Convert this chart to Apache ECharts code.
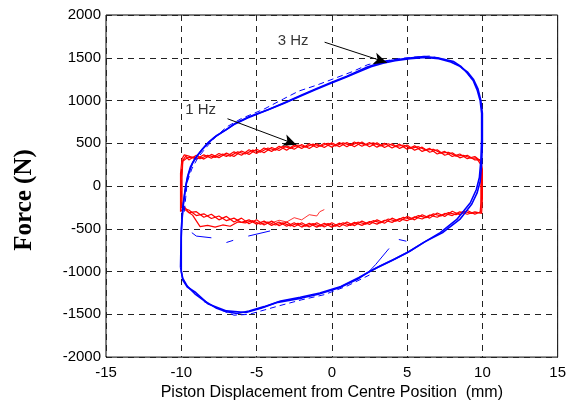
<!DOCTYPE html>
<html>
<head>
<meta charset="utf-8">
<script src="https://cdn.jsdelivr.net/npm/echarts@6/dist/echarts.min.js"></script>
<style>
html,body{margin:0;padding:0;background:#fff;}
#chart{width:569px;height:406px;}
</style>
</head>
<body>
<div id="chart"></div>
<script>
// Axis ranges / ticks
var xTicks = [-15, -10, -5, 0, 5, 10, 15];
var yTicks = [-2000, -1500, -1000, -500, 0, 500, 1000, 1500, 2000];
var xLabel = 'Piston Displacement from Centre Position  (mm)';
var yLabel = 'Force (N)';

// 1 Hz loops (red): displacement (mm), force (N)
var red1 = [[-10.0,-250],[-10.0,100],[-9.9,300],[-9.7,350],[-9.5,305],[-9.0,360],[-8.5,315],[-8.0,370],[-7.5,330],[-7.0,385],[-6.5,345],[-6.0,410],[-5.5,370],[-5.0,430],[-4.5,390],[-4.0,450],[-3.5,415],[-3.0,470],[-2.5,430],[-2.0,485],[-1.5,440],[-1.0,495],[-0.5,450],[0.0,505],[0.5,460],[1.0,510],[1.5,460],[2.0,515],[2.5,460],[3.0,505],[3.5,450],[4.0,495],[4.5,440],[5.0,480],[5.5,420],[6.0,455],[6.5,395],[7.0,425],[7.5,360],[8.0,390],[8.5,330],[9.0,360],[9.5,305],[9.8,310],[9.95,260],[9.95,-100],[9.9,-300],[9.5,-330],[9.0,-285],[8.5,-335],[8.0,-295],[7.5,-355],[7.0,-315],[6.5,-375],[6.0,-335],[5.5,-395],[5.0,-355],[4.5,-415],[4.0,-375],[3.5,-435],[3.0,-395],[2.5,-450],[2.0,-410],[1.5,-465],[1.0,-420],[0.5,-475],[0.0,-430],[-0.5,-480],[-1.0,-430],[-1.5,-480],[-2.0,-430],[-2.5,-475],[-3.0,-420],[-3.5,-465],[-4.0,-410],[-4.5,-455],[-5.0,-395],[-5.5,-440],[-6.0,-375],[-6.5,-420],[-7.0,-355],[-7.5,-395],[-8.0,-330],[-8.5,-365],[-9.0,-300],[-9.5,-310],[-9.8,-240],[-10.0,-250]];
var red2 = [[-10.05,-300],[-10.05,150],[-9.95,320],[-9.8,365],[-9.5,350],[-9.0,315],[-8.5,365],[-8.0,325],[-7.5,380],[-7.0,345],[-6.5,400],[-6.0,360],[-5.5,425],[-5.0,380],[-4.5,445],[-4.0,405],[-3.5,465],[-3.0,420],[-2.5,480],[-2.0,440],[-1.5,495],[-1.0,450],[-0.5,500],[0.0,455],[0.5,510],[1.0,460],[1.5,515],[2.0,465],[2.5,510],[3.0,455],[3.5,500],[4.0,445],[4.5,490],[5.0,430],[5.5,470],[6.0,405],[6.5,440],[7.0,375],[7.5,405],[8.0,345],[8.5,375],[9.0,320],[9.5,345],[9.85,300],[10.0,200],[10.0,-150],[9.95,-320],[9.5,-300],[9.0,-330],[8.5,-300],[8.0,-345],[7.5,-320],[7.0,-365],[6.5,-340],[6.0,-385],[5.5,-360],[5.0,-405],[4.5,-380],[4.0,-425],[3.5,-400],[3.0,-445],[2.5,-415],[2.0,-460],[1.5,-425],[1.0,-470],[0.5,-435],[0.0,-480],[-0.5,-435],[-1.0,-480],[-1.5,-435],[-2.0,-480],[-2.5,-430],[-3.0,-470],[-3.5,-420],[-4.0,-460],[-4.5,-410],[-5.0,-445],[-5.5,-395],[-6.0,-425],[-6.5,-375],[-7.0,-405],[-7.5,-350],[-8.0,-380],[-8.5,-325],[-9.0,-345],[-9.5,-280],[-9.85,-260],[-10.05,-300]];
var red3 = [[-9.95,-280],[-9.95,100],[-9.9,290],[-9.6,330],[-9.25,340],[-8.75,320],[-8.25,360],[-7.75,335],[-7.25,375],[-6.75,350],[-6.25,400],[-5.75,375],[-5.25,420],[-4.75,395],[-4.25,445],[-3.75,420],[-3.25,465],[-2.75,440],[-2.25,480],[-1.75,455],[-1.25,490],[-0.75,465],[-0.25,500],[0.25,470],[0.75,505],[1.25,475],[1.75,510],[2.25,480],[2.75,505],[3.25,470],[3.75,495],[4.25,460],[4.75,480],[5.25,440],[5.75,460],[6.25,420],[6.75,430],[7.25,385],[7.75,395],[8.25,350],[8.75,360],[9.25,325],[9.6,330],[9.9,250],[9.9,-200],[9.85,-310],[9.6,-310],[9.25,-320],[8.75,-295],[8.25,-335],[7.75,-310],[7.25,-350],[6.75,-325],[6.25,-370],[5.75,-345],[5.25,-390],[4.75,-365],[4.25,-410],[3.75,-385],[3.25,-430],[2.75,-405],[2.25,-445],[1.75,-420],[1.25,-460],[0.75,-430],[0.25,-470],[-0.25,-440],[-0.75,-470],[-1.25,-440],[-1.75,-470],[-2.25,-435],[-2.75,-465],[-3.25,-430],[-3.75,-455],[-4.25,-420],[-4.75,-445],[-5.25,-405],[-5.75,-430],[-6.25,-420],[-6.75,-470],[-7.25,-455],[-7.75,-480],[-8.25,-460],[-8.75,-475],[-9.25,-340],[-9.5,-310],[-9.8,-270],[-9.95,-280]];
var redTail = [[-4.0,-430],[-3.5,-400],[-3.0,-420],[-2.5,-370],[-2.0,-395],[-1.5,-335],[-1.0,-350],[-0.8,-300],[-0.5,-275]];

// 3 Hz loops (blue)
var blue1 = [[-10.0,-900],[-10.0,-600],[-9.95,-400],[-9.85,-200],[-9.7,0],[-9.5,150],[-9.25,270],[-9.0,340],[-8.6,430],[-8.2,510],[-7.7,585],[-7.0,660],[-6.4,735],[-5.5,810],[-4.2,895],[-3.0,985],[-2.0,1065],[-1.0,1140],[0.0,1215],[1.0,1285],[1.7,1340],[2.4,1395],[3.2,1440],[4.0,1470],[5.0,1495],[6.1,1515],[7.0,1500],[8.1,1455],[8.6,1395],[9.0,1320],[9.4,1230],[9.65,1125],[9.85,1000],[9.95,850],[9.95,550],[9.9,300],[9.8,100],[9.6,-40],[9.2,-195],[8.3,-390],[7.2,-545],[6.0,-670],[5.0,-780],[4.0,-870],[3.0,-955],[2.4,-1010],[1.7,-1090],[0.5,-1190],[-0.9,-1265],[-2.0,-1310],[-3.6,-1360],[-4.7,-1430],[-5.7,-1478],[-7.0,-1460],[-8.2,-1380],[-9.04,-1245],[-9.6,-1180],[-9.9,-1100],[-10.0,-1000],[-10.0,-900]];
var blue2 = [[-10.05,-950],[-10.0,-500],[-9.9,-250],[-9.75,-50],[-9.6,100],[-9.4,220],[-9.1,320],[-8.7,410],[-8.3,490],[-7.8,570],[-7.2,640],[-6.5,720],[-5.6,795],[-4.4,880],[-3.2,965],[-2.1,1050],[-1.1,1125],[-0.1,1200],[0.9,1270],[1.8,1335],[2.6,1395],[3.4,1435],[4.2,1465],[5.2,1490],[6.2,1505],[7.1,1490],[7.9,1450],[8.5,1400],[9.0,1335],[9.4,1250],[9.7,1140],[9.9,1000],[10.0,850],[10.0,500],[9.95,250],[9.85,50],[9.65,-80],[9.3,-210],[8.5,-390],[7.4,-540],[6.2,-650],[5.2,-760],[4.2,-850],[3.2,-935],[2.5,-1000],[1.8,-1070],[0.6,-1175],[-0.8,-1250],[-2.1,-1300],[-3.4,-1345],[-4.5,-1410],[-5.5,-1460],[-6.3,-1490],[-7.0,-1470],[-7.7,-1425],[-8.4,-1350],[-9.1,-1260],[-9.6,-1170],[-9.9,-1080],[-10.05,-950]];
var blueDashUpper = [[-9.8,-300],[-9.6,50],[-9.3,200],[-8.9,330],[-8.4,440],[-7.8,560],[-7.0,690],[-6.0,790],[-4.5,900],[-3.2,1020],[-2.2,1110],[-1.0,1180],[0.2,1260],[1.4,1340],[2.4,1420],[3.4,1460],[4.5,1490],[5.6,1510],[6.5,1520],[7.5,1480],[8.3,1420],[8.9,1340],[9.3,1250]];
var blueDashLower = [[-8.5,-1350],[-7.5,-1440],[-6.5,-1510],[-5.5,-1500],[-4.5,-1450],[-3.5,-1400],[-2.0,-1330],[-0.5,-1270],[1.0,-1170],[2.5,-1040]];
var blueBits = [
  [[-9.3,-545],[-9.0,-585],[-8.0,-605]],
  [[-7.0,-660],[-6.55,-635]],
  [[-5.55,-585],[-4.1,-525]],
  [[4.45,-625],[4.95,-645]],
  [[2.3,-1030],[2.9,-920],[3.8,-730]]
];

// Annotations
var notes = [
  {text: '3 Hz', at: [-2.57, 1697], from: [-0.48, 1682], to: [3.65, 1444]},
  {text: '1 Hz', at: [-8.71, 892], from: [-6.93, 787], to: [-2.35, 484]}
];

var chart = echarts.init(document.getElementById('chart'), null, {renderer: 'canvas'});
var FONT = 'Liberation Sans';

function lineSeries(data, color, width, dashed) {
  return {
    type: 'line', data: data, showSymbol: false, symbol: 'none', silent: true,
    lineStyle: {color: color, width: width, type: dashed ? [6, 4] : 'solid'},
    animation: false, z: 3
  };
}

var series = [];
[red1, red2, red3].forEach(function (d) { series.push(lineSeries(d, '#ff0000', 1.2)); });
series.push(lineSeries(redTail, '#ff0000', 0.8));
[blue1, blue2].forEach(function (d) { series.push(lineSeries(d, '#0000ff', 1.6)); });
series.push(lineSeries(blueDashUpper, '#0000ff', 1, true));
series.push(lineSeries(blueDashLower, '#0000ff', 1, true));
blueBits.forEach(function (d) { series.push(lineSeries(d, '#0000ff', 1)); });

// Arrows
series.push({
  type: 'line', data: [], silent: true, animation: false,
  markLine: {
    silent: true, animation: false,
    symbol: ['none', 'arrow'], symbolSize: [9, 13],
    lineStyle: {color: '#000', width: 1, type: 'solid'},
    label: {show: false},
    data: notes.map(function (n) { return [{coord: n.from}, {coord: n.to}]; })
  }
});
// Labels
series.push({
  type: 'scatter', symbolSize: 0, silent: true, animation: false, z: 5,
  data: notes.map(function (n) { return {value: n.at, name: n.text}; }),
  label: {show: true, position: 'inside', formatter: '{b}', color: '#000',
          fontFamily: FONT, fontSize: 15}
});

chart.setOption({
  animation: false,
  grid: {left: 106, right: 7, top: 15, bottom: 48, show: true,
         borderColor: '#000', borderWidth: 1, backgroundColor: 'transparent'},
  xAxis: {
    type: 'value', min: xTicks[0], max: xTicks[xTicks.length - 1], interval: 5,
    name: xLabel, nameLocation: 'middle', nameGap: 25,
    nameTextStyle: {fontFamily: FONT, fontSize: 16, color: '#000'},
    axisLine: {show: false}, axisTick: {show: false},
    axisLabel: {color: '#000', fontFamily: FONT, fontSize: 15, margin: 8,
                formatter: function (v) { return String(v); }},
    splitLine: {show: true, lineStyle: {color: '#222', type: [6, 5], width: 1}}
  },
  yAxis: {
    type: 'value', min: yTicks[0], max: yTicks[yTicks.length - 1], interval: 500,
    axisLine: {show: false}, axisTick: {show: false},
    axisLabel: {color: '#000', fontFamily: FONT, fontSize: 15, margin: 5,
                formatter: function (v) { return String(v); }},
    splitLine: {show: true, lineStyle: {color: '#222', type: [6, 5], width: 1}}
  },
  graphic: [{
    type: 'text', x: 25, y: 200, rotation: Math.PI / 2,
    style: {text: yLabel, font: 'bold 25px "Liberation Serif"', fill: '#000',
            align: 'center', verticalAlign: 'middle'}
  }],
  series: series
});
</script>
</body>
</html>
